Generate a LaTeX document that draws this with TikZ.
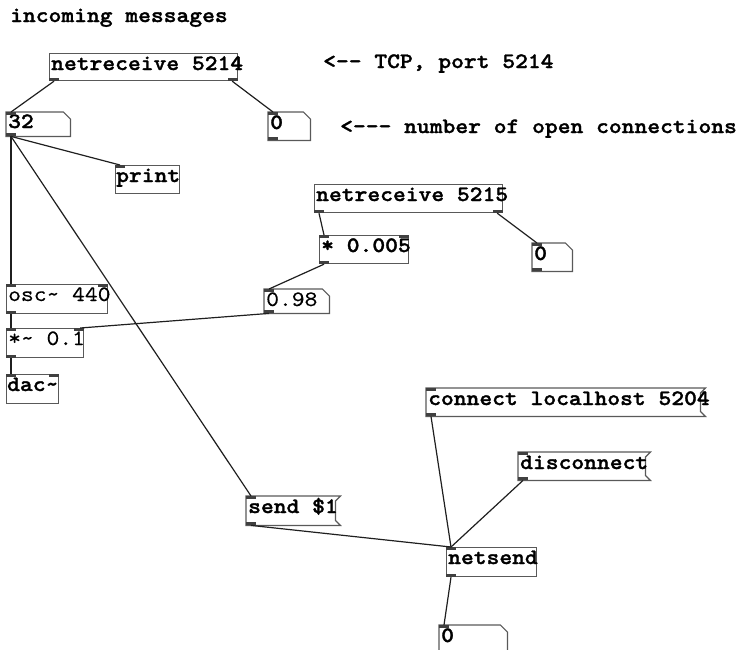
\documentclass[tikz,border=0pt]{standalone}
\usepackage{fontspec}
\newfontfamily\pdmono{lmmono10-regular.otf}[BoldFont=lmmonolt10-bold.otf,
  FakeStretch=1.108, BoldFeatures={FakeBold=1.4}]
\newfontfamily\pdmonolight{lmmono10-regular.otf}[FakeStretch=1.108, FakeBold=0.25]
\usetikzlibrary{calc}

\definecolor{boxgray}{gray}{0.35}
\definecolor{portgray}{gray}{0.25}
\definecolor{wiregray}{gray}{0.12}

\tikzset{
  obj/.style={draw=boxgray, line width=1.2pt, inner sep=0pt, anchor=north west},
  ghost/.style={inner sep=0pt, anchor=north west},
  outline/.style={draw=boxgray, line width=1.2pt},
  txt/.style={inner sep=0pt, anchor=base west, text=black,
              font=\pdmono\bfseries\fontsize{22}{23}\selectfont},
  lighttxt/.style={txt, font=\pdmonolight\fontsize{22}{23}\selectfont},
  port/.style={fill=portgray},
  wire/.style={draw=wiregray, line width=1.2pt},
  sigwire/.style={draw=wiregray, line width=2.4pt},
}

% number box with clipped top-right corner
\newcommand\pdatom[1]{\draw[outline] (#1.north west) -- ($(#1.north east)+(-7,0)$)
  -- ($(#1.north east)+(0,7)$) -- (#1.south east) -- (#1.south west) -- cycle;}
% message box with flag-shaped right edge
\newcommand\pdmsg[1]{\draw[outline] (#1.north west) -- ($(#1.north east)+(5,0)$)
  -- ($(#1.north east)+(0,5)$) -- ($(#1.south east)+(0,-5)$)
  -- ($(#1.south east)+(5,0)$) -- (#1.south west) -- cycle;}
% inlets and outlets
\newcommand\pdin[1]{\fill[port] (#1.north west) rectangle ++(10,3);}
\newcommand\pdinR[1]{\fill[port] (#1.north east) rectangle ++(-10,3);}
\newcommand\pdout[1]{\fill[port] (#1.south west) rectangle ++(10,-3);}
\newcommand\pdoutR[1]{\fill[port] (#1.south east) rectangle ++(-10,-3);}

\begin{document}
\begin{tikzpicture}[x=1pt,y=-1pt]
\useasboundingbox (0,0) rectangle (738,649);
\clip (0,0) rectangle (738,649);

% comments
\node[txt] (cin) at (10,22) {incoming messages};
\node[txt] (ctcp) at (323,68) {<-- TCP, port 5214};
\node[txt] (copen) at (340,133) {<--- number of open connections};

% boxes
\node[obj, minimum width=188pt, minimum height=27pt] (nr1) at (49,53) {};
\node[ghost, minimum width=64pt, minimum height=24pt] (n32) at (6,112) {};
\node[ghost, minimum width=42pt, minimum height=28pt] (n0a) at (268,112) {};
\node[obj, minimum width=64pt, minimum height=28pt] (print) at (115,165) {};
\node[obj, minimum width=188pt, minimum height=28pt] (nr2) at (314,184) {};
\node[obj, minimum width=89pt, minimum height=28pt] (mul) at (319,235) {};
\node[ghost, minimum width=40pt, minimum height=28pt] (n0b) at (532,243) {};
\node[obj, minimum width=101pt, minimum height=29pt] (osc) at (6,284) {};
\node[ghost, minimum width=65pt, minimum height=24pt] (n098) at (264,289) {};
\node[obj, minimum width=77pt, minimum height=29pt] (mulsig) at (6,328) {};
\node[obj, minimum width=52pt, minimum height=29pt] (dac) at (6,374) {};
\node[ghost, minimum width=274pt, minimum height=28pt] (conn) at (426,388) {};
\node[ghost, minimum width=127pt, minimum height=28pt] (disc) at (518,452) {};
\node[ghost, minimum width=89pt, minimum height=29pt] (send) at (246,496) {};
\node[obj, minimum width=90pt, minimum height=29pt] (netsend) at (446,547) {};
\node[ghost, minimum width=68pt, minimum height=30pt] (n0c) at (439,625) {};

\pdatom{n32} \pdatom{n0a} \pdatom{n0b} \pdatom{n098} \pdatom{n0c}
\pdmsg{conn} \pdmsg{disc} \pdmsg{send}

% box texts
\node[txt] at ($(nr1.north west)+(2,17)$) {netreceive 5214};
\node[txt] at ($(n32.north west)+(2,16)$) {32};
\node[txt] at ($(n0a.north west)+(2,17)$) {0};
\node[txt] at ($(print.north west)+(1,17)$) {print};
\node[txt] at ($(nr2.north west)+(2,17)$) {netreceive 5215};
\node[txt] at ($(mul.north west)+(2,17)$) {* 0.005};
\node[txt] at ($(n0b.north west)+(2,17)$) {0};
\node[lighttxt] at ($(osc.north west)+(2,17)$) {osc\char`~{} 440};
\node[lighttxt] at ($(n098.north west)+(2,17)$) {0.98};
\node[lighttxt] at ($(mulsig.north west)+(2,17)$) {*\char`~{} 0.1};
\node[txt] at ($(dac.north west)+(1,17)$) {dac\char`~};
\node[txt] at ($(conn.north west)+(2,17)$) {connect localhost 5204};
\node[txt] at ($(disc.north west)+(2,17)$) {disconnect};
\node[txt] at ($(send.north west)+(2,17)$) {send \$1};
\node[txt] at ($(netsend.north west)+(2,17)$) {netsend};
\node[txt] at ($(n0c.north west)+(2,17)$) {0};

% inlets and outlets
\pdout{nr1} \pdoutR{nr1}
\pdin{n32} \pdout{n32}
\pdin{n0a} \pdout{n0a}
\pdin{print}
\pdout{nr2} \pdoutR{nr2}
\pdin{mul} \pdinR{mul} \pdout{mul}
\pdin{n0b} \pdout{n0b}
\pdin{osc} \pdinR{osc} \pdout{osc}
\pdin{n098} \pdout{n098}
\pdin{mulsig} \pdinR{mulsig} \pdout{mulsig}
\pdin{dac} \pdinR{dac}
\pdin{conn} \pdout{conn}
\pdin{disc} \pdout{disc}
\pdin{send} \pdout{send}
\pdin{netsend} \pdout{netsend}
\pdin{n0c}

% connections
\draw[wire] ($(nr1.south west)+(5,0)$) -- ($(n32.north west)+(5,0)$);
\draw[wire] ($(nr1.south east)+(-6,0)$) -- ($(n0a.north west)+(5,0)$);
\draw[wire] ($(n32.south west)+(5,0)$) -- ($(print.north west)+(5,0)$);
\draw[wire] ($(n32.south west)+(5,0)$) -- ($(osc.north west)+(5,0)$);
\draw[wire] ($(n32.south west)+(5,0)$) -- ($(send.north west)+(5,0)$);
\draw[wire] ($(nr2.south west)+(5,0)$) -- ($(mul.north west)+(5,0)$);
\draw[wire] ($(nr2.south east)+(-6,0)$) -- ($(n0b.north west)+(5,0)$);
\draw[wire] ($(mul.south west)+(5,0)$) -- ($(n098.north west)+(5,0)$);
\draw[wire] ($(n098.south west)+(5,0)$) -- ($(mulsig.north east)+(-4,0)$);
\draw[sigwire] ($(osc.south west)+(5,0)$) -- ($(mulsig.north west)+(5,0)$);
\draw[sigwire] ($(mulsig.south west)+(5,0)$) -- ($(dac.north west)+(5,0)$);
\draw[wire] ($(conn.south west)+(5,0)$) -- ($(netsend.north west)+(5,0)$);
\draw[wire] ($(disc.south west)+(5,0)$) -- ($(netsend.north west)+(5,0)$);
\draw[wire] ($(send.south west)+(5,0)$) -- ($(netsend.north west)+(5,0)$);
\draw[wire] ($(netsend.south west)+(5,0)$) -- ($(n0c.north west)+(5,0)$);
\end{tikzpicture}
\end{document}
